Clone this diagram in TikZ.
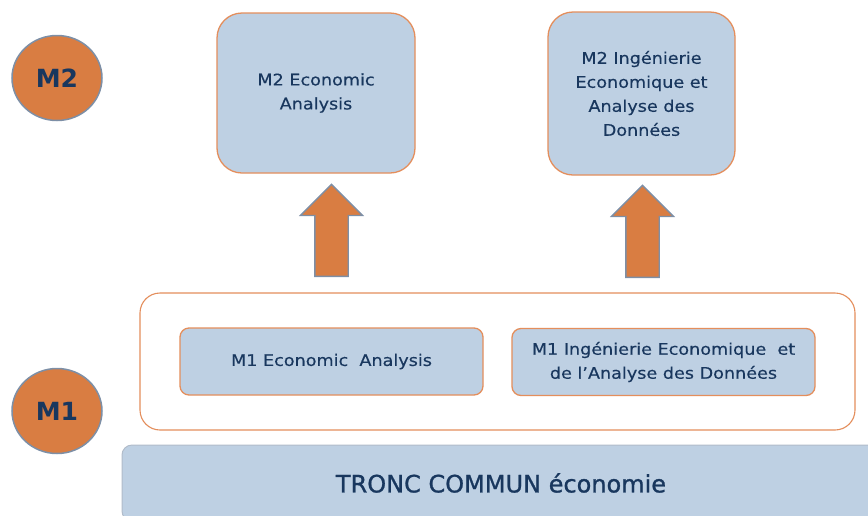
\documentclass[tikz,border=0pt]{standalone}
\usepackage{fontspec}
\setmainfont{DejaVu Sans}
\newfontfamily\boxfont[FakeStretch=1.1,FakeBold=0.3]{DejaVu Sans}
\newfontfamily\basefont[FakeBold=1]{DejaVu Sans}
\usetikzlibrary{shapes.arrows,shapes.geometric}
\definecolor{boxblue}{RGB}{190,208,227}
\definecolor{orangeline}{RGB}{228,142,92}
\definecolor{orangefill}{RGB}{217,125,66}
\definecolor{greyline}{RGB}{125,143,166}
\definecolor{navy}{RGB}{25,55,94}
\begin{document}
\begin{tikzpicture}[x=1pt,y=-1pt,
  levelcircle/.style={ellipse,draw=greyline,line width=1.5pt,fill=orangefill,
    minimum width=90,minimum height=85,inner sep=0,text=navy,
    font=\fontsize{25}{25}\selectfont\bfseries},
  bigbox/.style={draw=orangeline,line width=1.3pt,fill=boxblue,rounded corners=25,
    text=navy,align=center,inner sep=0,font=\boxfont\fontsize{16}{24}\selectfont},
  smallbox/.style={draw=orangeline,line width=1.3pt,fill=boxblue,rounded corners=9,
    text=navy,align=center,inner sep=0,minimum width=303,minimum height=67,
    font=\boxfont\fontsize{16}{24}\selectfont},
  groupbox/.style={draw=orangeline,line width=1.1pt,fill=white,rounded corners=20,
    minimum width=715,minimum height=137,inner sep=0},
  basebox/.style={draw=greyline!60,line width=1pt,fill=boxblue,rounded corners=10,
    minimum width=758,minimum height=76,inner sep=0,text=navy,
    font=\basefont\fontsize{24}{24}\selectfont},
  uparrow/.style={single arrow,draw=greyline,line width=1.3pt,fill=orangefill,
    rotate=90,minimum height=92,inner xsep=0,inner ysep=16,
    single arrow head extend=14.5,anchor=tail}
]
\useasboundingbox (0,0) rectangle (868,515);
\clip (0,0) rectangle (868,515);

\node[levelcircle] (lm2) at (57,78) {M2};
\node[levelcircle] (lm1) at (57,411) {M1};

\node[bigbox,minimum width=198,minimum height=160] (m2ea) at (316,93)
  {M2 Economic\\Analysis};
\node[bigbox,minimum width=187,minimum height=163] (m2ide) at (641.5,93.5)
  {M2 Ingénierie\\Economique et\\Analyse des\\Données};

\node[groupbox] (m1group) at (497.5,361.5) {};
\node[smallbox] (m1ea) at (331.5,361.5) {M1 Economic\ \ Analysis};
\node[smallbox] (m1ide) at (663.5,362) {M1 Ingénierie Economique\ \ et\\de l’Analyse des Données};

\node[basebox] (tronc) at (501,483) {TRONC COMMUN économie};

\node[uparrow] (ar1) at (331.5,277) {};
\node[uparrow] (ar2) at (642.5,278) {};
\end{tikzpicture}
\end{document}
